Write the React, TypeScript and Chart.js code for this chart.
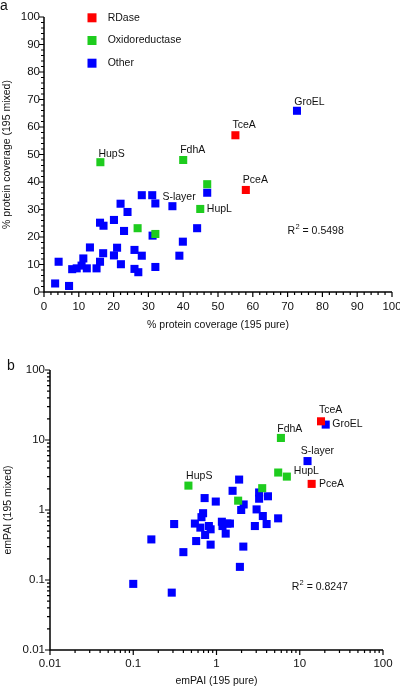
import React, { useEffect, useRef } from 'react';
import { Chart, registerables } from 'chart.js';

Chart.register(...registerables);

const FONT = '"Liberation Sans", Arial, Helvetica, sans-serif';

// ---------- data ----------
const groups = ['RDase', 'Oxidoreductase', 'Other'];
const groupColors = ['#FF0000', '#1ECC1E', '#0000FF'];

const namedProteins = ['TceA', 'PceA', 'FdhA', 'HupS', 'HupL', 'S-layer', 'GroEL'];
const namedGroup = ['RDase', 'RDase', 'Oxidoreductase', 'Oxidoreductase', 'Oxidoreductase', 'Other', 'Other'];
const namedCoveragePure = [55, 58, 40, 16.2, 44.9, 36.9, 72.7];
const namedCoverageMixed = [57, 37.1, 48, 47.2, 30.2, 31.2, 65.9];
const namedEmpaiPure = [18, 13.9, 5.94, 0.46, 7.0, 12.4, 20.5];
const namedEmpaiMixed = [18.5, 2.36, 10.7, 2.23, 3.0, 5.0, 16.6];

const oxidoCoveragePure = [46.9, 26.9, 32.0];
const oxidoCoverageMixed = [39.2, 23.2, 21.1];
const oxidoEmpaiPure = [5.51, 3.54, 1.82];
const oxidoEmpaiMixed = [3.43, 2.05, 1.36];

const otherCoveragePure = [46.9, 28.1, 31.1, 32.0, 22.0, 24.0, 20.1, 16.1, 17.1, 23.0, 31.2, 44.0, 39.9, 38.9, 13.2, 21.0, 17.0, 20.1, 26.0, 28.1, 11.3, 4.2, 16.1, 15.1, 22.1, 32.0, 26.0, 27.1, 3.2, 7.2, 8.1, 9.4, 10.8, 12.3];
const otherCoverageMixed = [36.1, 35.2, 35.2, 32.2, 32.1, 29.1, 26.2, 25.2, 24.1, 22.2, 20.5, 23.2, 18.3, 13.2, 16.2, 16.1, 14.1, 13.3, 15.3, 13.2, 12.2, 11.0, 11.0, 8.6, 10.1, 9.1, 8.4, 7.2, 3.1, 2.2, 8.3, 8.6, 9.6, 8.6];

const otherEmpaiPure = [1.87, 1.56, 3.25, 3.25, 4.15, 0.72, 0.98, 2.12, 1.98, 3.03, 3.6, 5.5, 4.0, 2.89, 0.69, 0.66, 0.55, 0.64, 0.81, 0.85, 0.73, 1.16, 1.35, 1.18, 1.29, 1.45, 0.31, 0.57, 0.85, 2.1, 0.40, 0.165, 1.91, 0.10, 0.29];
const otherEmpaiMixed = [2.72, 1.88, 1.78, 1.45, 1.57, 1.48, 1.32, 1.2, 1.0, 1.02, 0.82, 0.76, 0.63, 0.59, 0.90, 0.79, 0.64, 0.56, 0.59, 0.53, 0.44, 0.68, 0.64, 0.59, 0.46, 0.64, 0.63, 0.36, 0.32, 0.30, 0.25, 0.38, 0.154, 0.088, 0.066];

const coverageTicks = [0, 10, 20, 30, 40, 50, 60, 70, 80, 90, 100];
const empaiTicks = [0.01, 0.1, 1, 10, 100];
const r2Coverage = '0.5498';
const r2Empai = '0.8247';

// ---------- helpers ----------
function buildDatasets(ox: number[], oy: number[], bx: number[], by: number[], nx: number[], ny: number[]) {
  return groups.map((g, gi) => {
    const data: any[] = [];
    if (g === 'Other') bx.forEach((x, i) => data.push({ x, y: by[i], name: '' }));
    if (g === 'Oxidoreductase') ox.forEach((x, i) => data.push({ x, y: oy[i], name: '' }));
    namedProteins.forEach((n, i) => {
      if (namedGroup[i] === g) data.push({ x: nx[i], y: ny[i], name: n });
    });
    return {
      label: g,
      data,
      backgroundColor: groupColors[gi],
      borderColor: groupColors[gi],
      pointStyle: 'rect',
      pointRadius: 5.7,
      pointHoverRadius: 5.7,
      pointBorderWidth: 0,
      borderWidth: 0,
    };
  });
}

function linearMarks() {
  const m: { v: number; len: number }[] = [];
  for (let v = 0; v <= 100; v += 2) m.push({ v, len: v % 10 === 0 ? 5 : 3 });
  return m;
}
function logMarks() {
  const m: { v: number; len: number }[] = [];
  for (let n = -2; n <= 1; n++) {
    for (let k = 1; k <= 9; k++) m.push({ v: Number((k * Math.pow(10, n)).toPrecision(3)), len: k === 1 ? 5 : 3 });
  }
  m.push({ v: 100, len: 5 });
  return m;
}

function makeConfig(p: any) {
  const plugin = {
    id: 'prism' + p.id,
    afterDraw(chart: any) {
      const ctx = chart.ctx;
      const ca = chart.chartArea;
      const xs = chart.scales.x;
      const ys = chart.scales.y;
      ctx.save();
      // axes
      ctx.strokeStyle = '#000';
      ctx.lineWidth = 1.5;
      ctx.beginPath();
      ctx.moveTo(ca.left, ca.top);
      ctx.lineTo(ca.left, ca.bottom);
      ctx.lineTo(ca.right, ca.bottom);
      ctx.stroke();
      ctx.lineWidth = 1.2;
      ctx.beginPath();
      p.marks.forEach((m: any) => {
        const px = xs.getPixelForValue(m.v);
        ctx.moveTo(px, ca.bottom);
        ctx.lineTo(px, ca.bottom + m.len);
        const py = ys.getPixelForValue(m.v);
        ctx.moveTo(ca.left, py);
        ctx.lineTo(ca.left - m.len, py);
      });
      ctx.stroke();

      ctx.fillStyle = '#111';
      // point labels
      ctx.font = `10.5px ${FONT}`;
      ctx.textAlign = 'left';
      ctx.textBaseline = 'middle';
      chart.data.datasets.forEach((ds: any, di: number) => {
        const meta = chart.getDatasetMeta(di);
        ds.data.forEach((pt: any, i: number) => {
          if (!pt.name) return;
          const el = meta.data[i];
          const off = p.labelOffsets[pt.name] || [0, -10];
          ctx.fillText(pt.name, el.x + off[0], el.y + off[1]);
        });
      });

      // legend
      if (p.legend) {
        chart.data.datasets.forEach((ds: any, i: number) => {
          const cy = ca.top + 0.8 + i * 22.7;
          ctx.fillStyle = ds.backgroundColor;
          ctx.fillRect(ca.left + 48 - 4.5, cy - 4.5, 9, 9);
          ctx.fillStyle = '#111';
          ctx.fillText(ds.label, ca.left + 63.7, cy);
        });
      }

      // R2
      const rx = xs.getPixelForValue(p.r2At[0]);
      const ry = ys.getPixelForValue(p.r2At[1]);
      ctx.font = `10.5px ${FONT}`;
      ctx.fillText('R', rx, ry);
      const w1 = ctx.measureText('R').width;
      ctx.font = `7.5px ${FONT}`;
      ctx.fillText('2', rx + w1 + 0.3, ry - 3.5);
      const w2 = ctx.measureText('2').width;
      ctx.font = `10.5px ${FONT}`;
      ctx.fillText(' = ' + p.r2, rx + w1 + w2 + 0.3, ry);

      // panel letter
      ctx.font = `14px ${FONT}`;
      ctx.textBaseline = 'alphabetic';
      ctx.fillText(p.letter, p.letterAt[0], p.letterAt[1]);
      ctx.restore();
    },
  };

  const tickFont = { family: FONT, size: 11.5 };
  const titleFont = { family: FONT, size: 10.5 };

  return {
    type: 'scatter',
    data: { datasets: p.datasets },
    options: {
      responsive: false,
      animation: false,
      events: [],
      layout: { padding: p.padding, autoPadding: false },
      plugins: { legend: { display: false }, tooltip: { enabled: false } },
      scales: {
        x: {
          type: p.type,
          position: 'bottom',
          min: p.min,
          max: p.max,
          grid: { display: false, drawTicks: false },
          border: { display: false },
          ticks: {
            padding: p.xTickPad,
            font: tickFont,
            color: '#111',
            maxRotation: 0,
            autoSkip: false,
            callback: (v: any) => String(Number(v)),
          },
          title: { display: true, text: p.xTitle, font: titleFont, color: '#111', padding: { top: 0, bottom: p.xTitlePad } },
          afterBuildTicks: (s: any) => {
            s.ticks = p.ticks.map((v: number) => ({ value: v }));
          },
          afterFit: (s: any) => {
            s.height = p.xHeight;
            s.paddingLeft = 0;
            s.paddingRight = 0;
          },
        },
        y: {
          type: p.type,
          position: 'left',
          min: p.min,
          max: p.max,
          grid: { display: false, drawTicks: false },
          border: { display: false },
          ticks: {
            padding: p.yTickPad,
            font: tickFont,
            color: '#111',
            autoSkip: false,
            callback: (v: any) => String(Number(v)),
          },
          title: { display: true, text: p.yTitle, font: titleFont, color: '#111', padding: { top: p.yTitlePad, bottom: 0 } },
          afterBuildTicks: (s: any) => {
            s.ticks = p.ticks.map((v: number) => ({ value: v }));
          },
          afterFit: (s: any) => {
            s.width = p.yWidth;
            s.paddingTop = 0;
            s.paddingBottom = 0;
          },
        },
      },
    },
    plugins: [plugin],
  };
}

const topConfig = () =>
  makeConfig({
    id: 'a',
    type: 'linear',
    min: 0,
    max: 100,
    ticks: coverageTicks,
    marks: linearMarks(),
    datasets: buildDatasets(oxidoCoveragePure, oxidoCoverageMixed, otherCoveragePure, otherCoverageMixed, namedCoveragePure, namedCoverageMixed),
    padding: { top: 17, right: 8, bottom: 0, left: 0 },
    xHeight: 53,
    yWidth: 44,
    xTickPad: 8,
    yTickPad: 4,
    xTitle: '% protein coverage (195 pure)',
    yTitle: '% protein coverage (195 mixed)',
    xTitlePad: 14,
    yTitlePad: 0.5,
    legend: true,
    labelOffsets: { TceA: [-3, -10], PceA: [-3, -9.5], FdhA: [-3, -9.5], HupS: [-2, -8.5], HupL: [6.6, 0], 'S-layer': [-10, -8.6], GroEL: [-2.7, -8.7] },
    r2: r2Coverage,
    r2At: [70, 22.3],
    letter: 'a',
    letterAt: [0, 10],
  });

const bottomConfig = () =>
  makeConfig({
    id: 'b',
    type: 'logarithmic',
    min: 0.01,
    max: 100,
    ticks: empaiTicks,
    marks: logMarks(),
    datasets: buildDatasets(oxidoEmpaiPure, oxidoEmpaiMixed, otherEmpaiPure, otherEmpaiMixed, namedEmpaiPure, namedEmpaiMixed),
    padding: { top: 25, right: 17, bottom: 0, left: 0 },
    xHeight: 37,
    yWidth: 50,
    xTickPad: 7,
    yTickPad: 5,
    xTitle: 'emPAI (195 pure)',
    yTitle: 'emPAI (195 mixed)',
    xTitlePad: 0,
    yTitlePad: 1.5,
    legend: false,
    labelOffsets: { TceA: [-2, -10.7], GroEL: [6.6, 0], FdhA: [-3.7, -9], 'S-layer': [-6.7, -9.6], HupL: [7, -5.7], PceA: [7.3, 0], HupS: [-2.3, -10] },
    r2: r2Empai,
    r2At: [8, 0.08],
    letter: 'b',
    letterAt: [7, 25],
  });

function Panel({ top, height, build }: { top: number; height: number; build: () => any }) {
  const ref = useRef<HTMLCanvasElement | null>(null);
  useEffect(() => {
    if (!ref.current) return;
    const chart = new Chart(ref.current, build());
    return () => chart.destroy();
  }, []);
  return (
    <canvas
      ref={ref}
      width={400}
      height={height}
      style={{ position: 'absolute', left: 0, top, width: 400, height, display: 'block' }}
    />
  );
}

export default function App() {
  return (
    <div style={{ position: 'absolute', left: 0, top: 0, width: 400, height: 687, background: '#fff', overflow: 'hidden' }}>
      <Panel top={0} height={345} build={topConfig} />
      <Panel top={345} height={342} build={bottomConfig} />
    </div>
  );
}
